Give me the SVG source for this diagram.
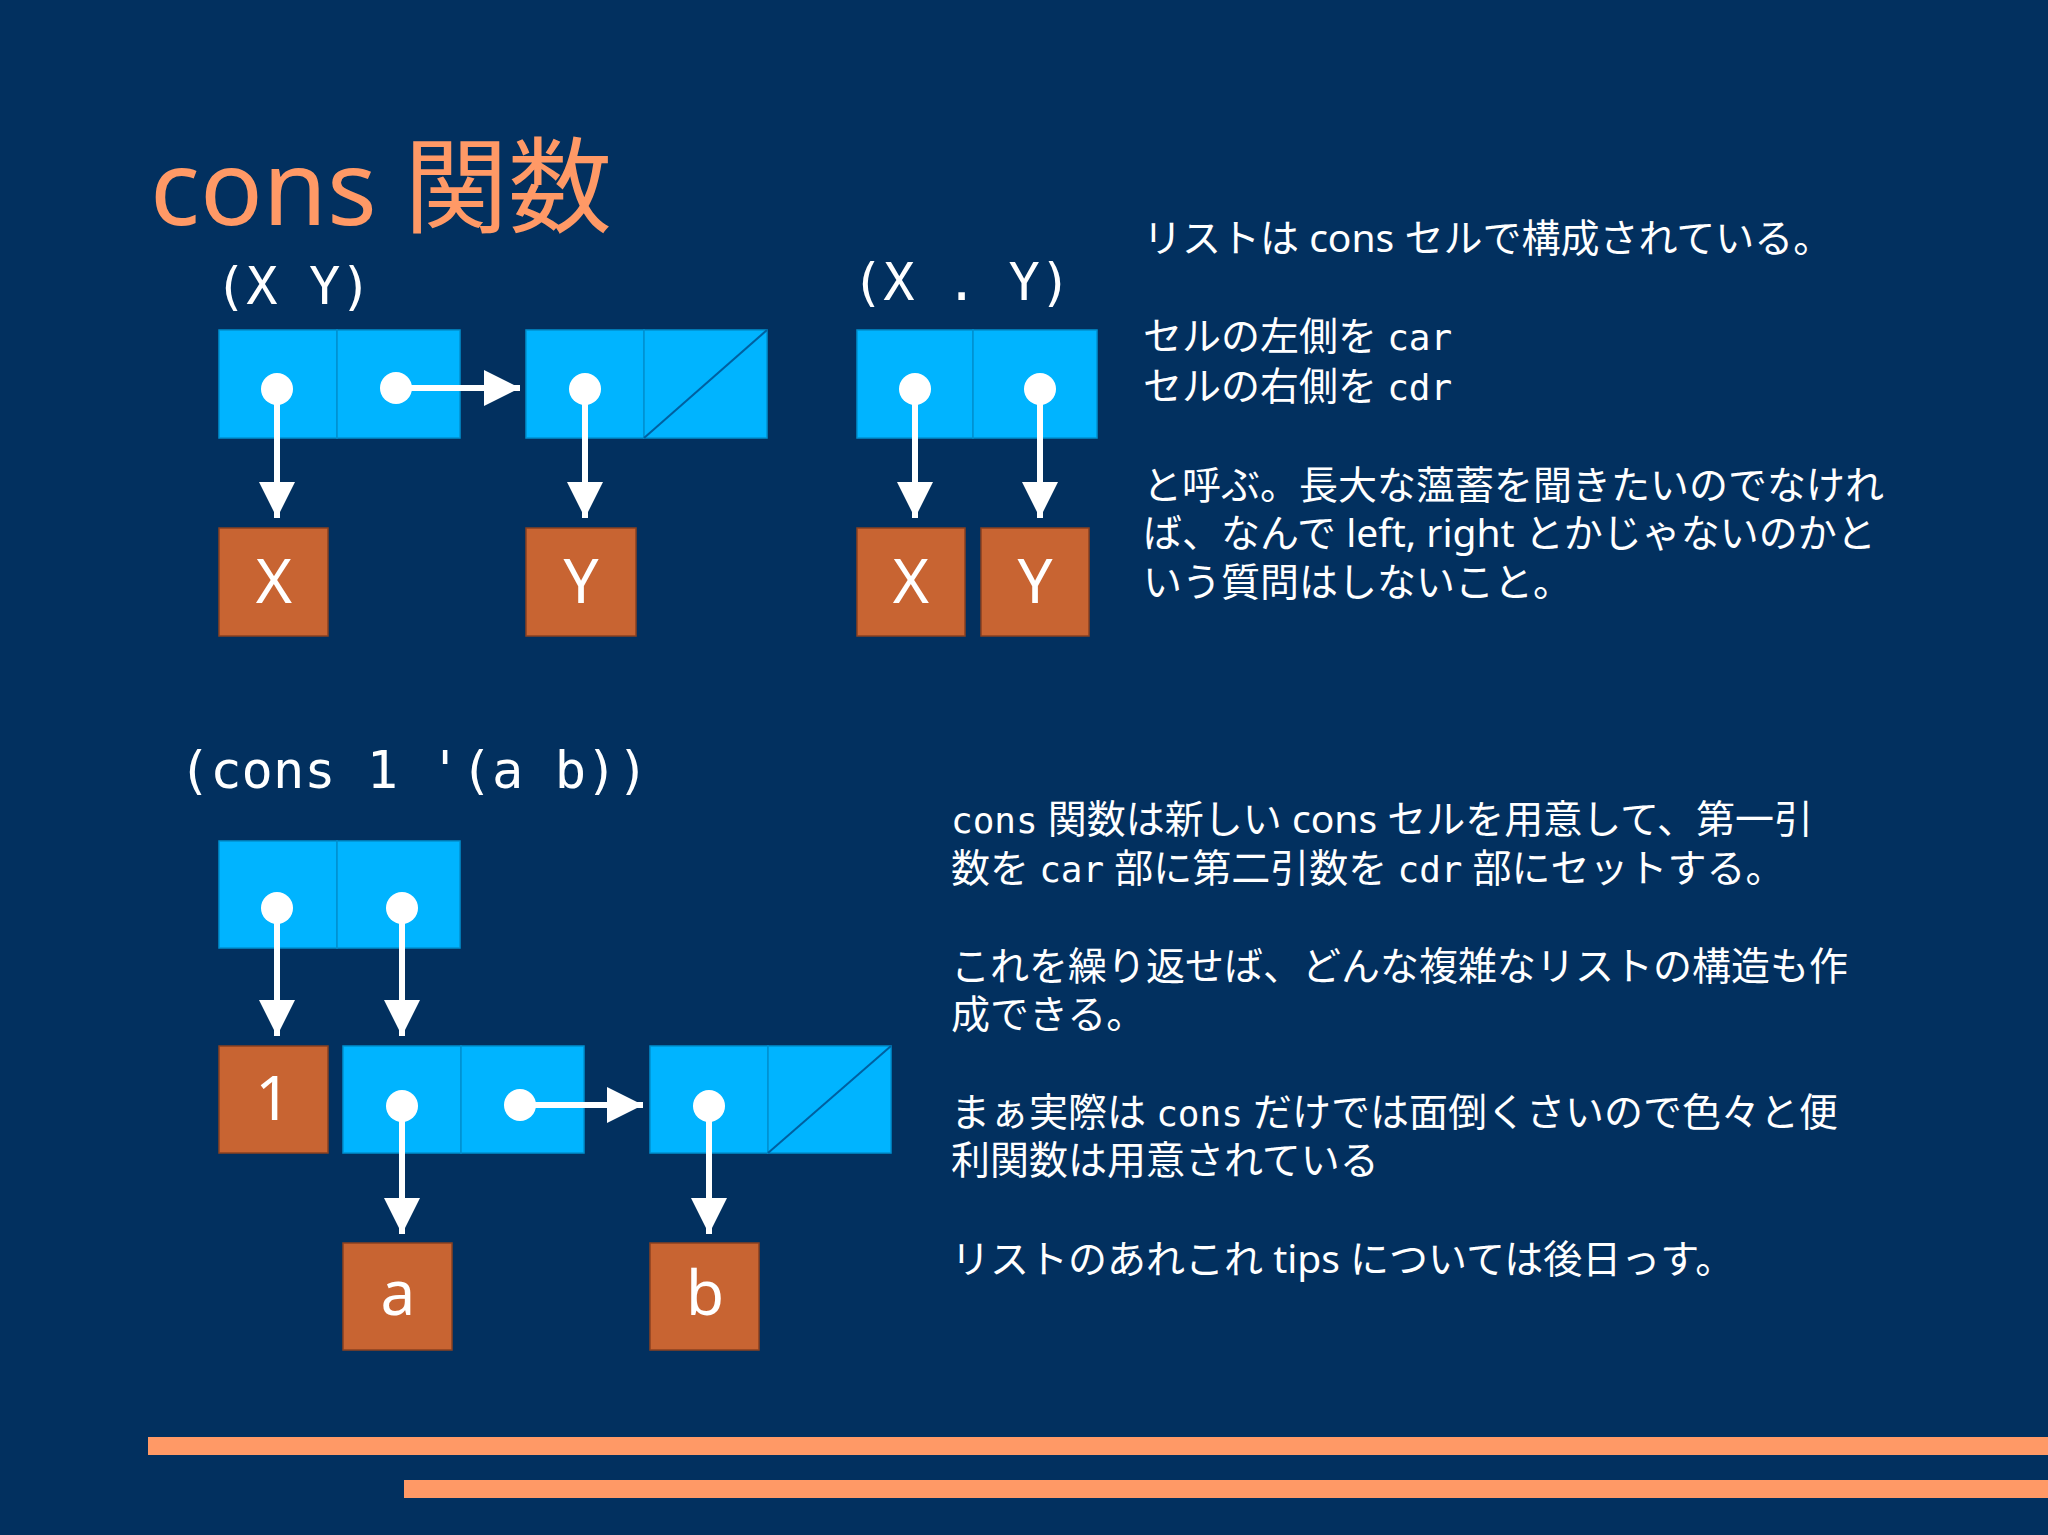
<svg xmlns="http://www.w3.org/2000/svg" width="2048" height="1535" viewBox="0 0 2048 1535">
<defs>
<style>
.cell{fill:#00b4ff;stroke:#0090d0;stroke-width:1.5}
.box{fill:#c86432;stroke:#8a4020;stroke-width:1.5}
.bl{fill:#fff;font-family:"Noto Sans","DejaVu Sans",sans-serif;font-size:62px;text-anchor:middle}
.code{fill:#fff;font-family:"DejaVu Sans Mono","Liberation Mono",monospace;font-size:52px}
.t{fill:#fff;font-family:"Noto Sans","Noto Sans CJK JP",sans-serif;font-size:39px}
.m{font-family:"DejaVu Sans Mono","Liberation Mono",monospace;font-size:36px}
.ln{stroke:#fff;stroke-width:6;fill:none}
</style>
<marker id="ah" viewBox="0 0 10 10" refX="10" refY="5" markerWidth="6" markerHeight="6" markerUnits="strokeWidth" orient="auto"><path d="M0,0 L10,5 L0,10 z" fill="#fff"/></marker>
</defs>
<rect width="2048" height="1535" fill="#02305f"/>
<text x="150" y="225" fill="#ff9966" font-family="Noto Sans,Noto Sans CJK JP,sans-serif" font-size="104">cons 関数</text>
<g id="topleft">
<text class="code" x="215" y="304">(X Y)</text>
<rect class="cell" x="219" y="330" width="118" height="108"/><rect class="cell" x="337" y="330" width="123" height="108"/>
<rect class="cell" x="526" y="330" width="118" height="108"/><rect class="cell" x="644" y="330" width="123" height="108"/>
<line x1="644" y1="438" x2="767" y2="330" stroke="#0060a0" stroke-width="2"/>
<rect class="box" x="219" y="528" width="109" height="108"/><text class="bl" x="274" y="603">X</text>
<rect class="box" x="526" y="528" width="110" height="108"/><text class="bl" x="581" y="603">Y</text>
</g>
<g id="topmid">
<text class="code" x="852" y="300">(X . Y)</text>
<rect class="cell" x="857" y="330" width="116" height="108"/><rect class="cell" x="973" y="330" width="124" height="108"/>
<rect class="box" x="857" y="528" width="108" height="108"/><text class="bl" x="911" y="603">X</text>
<rect class="box" x="981" y="528" width="108" height="108"/><text class="bl" x="1035" y="603">Y</text>
</g>
<g id="bottom">
<text class="code" x="179" y="788">(cons 1 '(a b))</text>
<rect class="cell" x="219" y="841" width="118" height="107"/><rect class="cell" x="337" y="841" width="123" height="107"/>
<rect class="box" x="219" y="1046" width="109" height="107"/><text class="bl" x="273" y="1120">1</text>
<rect class="cell" x="343" y="1046" width="118" height="107"/><rect class="cell" x="461" y="1046" width="123" height="107"/>
<rect class="cell" x="650" y="1046" width="118" height="107"/><rect class="cell" x="768" y="1046" width="123" height="107"/>
<line x1="768" y1="1153" x2="891" y2="1046" stroke="#0060a0" stroke-width="2"/>
<rect class="box" x="343" y="1243" width="109" height="107"/><text class="bl" x="398" y="1315">a</text>
<rect class="box" x="650" y="1243" width="109" height="107"/><text class="bl" x="705" y="1315">b</text>
</g>
<g id="connectors" fill="#fff">
<circle cx="277" cy="389" r="16"/><line class="ln" x1="277" y1="389" x2="277" y2="518" marker-end="url(#ah)"/>
<circle cx="396" cy="388" r="16"/><line class="ln" x1="396" y1="388" x2="520" y2="388" marker-end="url(#ah)"/>
<circle cx="585" cy="389" r="16"/><line class="ln" x1="585" y1="389" x2="585" y2="518" marker-end="url(#ah)"/>
<circle cx="915" cy="389" r="16"/><line class="ln" x1="915" y1="389" x2="915" y2="518" marker-end="url(#ah)"/>
<circle cx="1040" cy="389" r="16"/><line class="ln" x1="1040" y1="389" x2="1040" y2="518" marker-end="url(#ah)"/>
<circle cx="277" cy="908" r="16"/><line class="ln" x1="277" y1="908" x2="277" y2="1036" marker-end="url(#ah)"/>
<circle cx="402" cy="908" r="16"/><line class="ln" x1="402" y1="908" x2="402" y2="1036" marker-end="url(#ah)"/>
<circle cx="402" cy="1106" r="16"/><line class="ln" x1="402" y1="1106" x2="402" y2="1234" marker-end="url(#ah)"/>
<circle cx="520" cy="1105" r="16"/><line class="ln" x1="520" y1="1105" x2="643" y2="1105" marker-end="url(#ah)"/>
<circle cx="709" cy="1106" r="16"/><line class="ln" x1="709" y1="1106" x2="709" y2="1234" marker-end="url(#ah)"/>
</g>
<g id="text-right">
<text class="t" x="1143" y="252">リストは cons セルで構成されている。</text>
<text class="t" x="1143" y="350">セルの左側を <tspan class="m">car</tspan></text>
<text class="t" x="1143" y="400">セルの右側を <tspan class="m">cdr</tspan></text>
<text class="t" x="1143" y="499">と呼ぶ。長大な薀蓄を聞きたいのでなけれ</text>
<text class="t" x="1143" y="547">ば、なんで left, right とかじゃないのかと</text>
<text class="t" x="1143" y="596">いう質問はしないこと。</text>
<text class="t" x="951" y="833"><tspan class="m">cons</tspan> 関数は新しい cons セルを用意して、第一引</text>
<text class="t" x="951" y="882">数を <tspan class="m">car</tspan> 部に第二引数を <tspan class="m">cdr</tspan> 部にセットする。</text>
<text class="t" x="951" y="980">これを繰り返せば、どんな複雑なリストの構造も作</text>
<text class="t" x="951" y="1028">成できる。</text>
<text class="t" x="951" y="1126">まぁ実際は <tspan class="m">cons</tspan> だけでは面倒くさいので色々と便</text>
<text class="t" x="951" y="1174">利関数は用意されている</text>
<text class="t" x="951" y="1273">リストのあれこれ tips については後日っす。</text>
</g>
<rect x="148" y="1437" width="1900" height="18" fill="#ff9966"/>
<rect x="404" y="1480" width="1644" height="18" fill="#ff9966"/>
</svg>
